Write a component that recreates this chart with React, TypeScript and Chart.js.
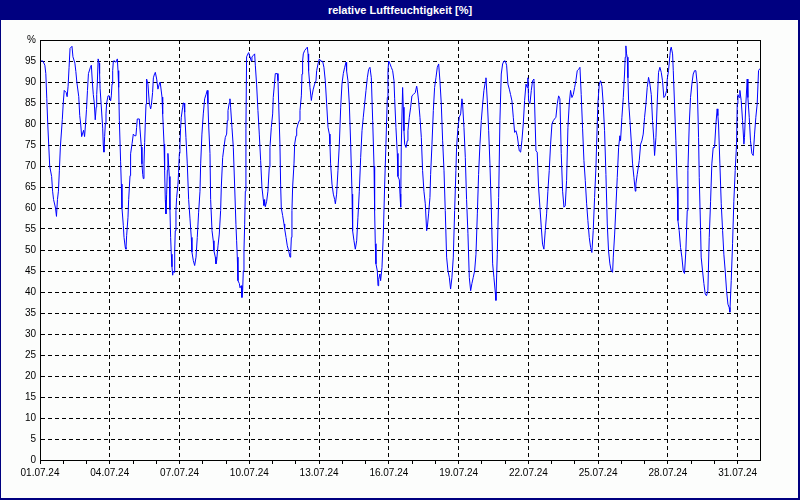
import React, { useEffect, useRef } from 'react';
import { Chart, registerables } from 'chart.js';

Chart.register(...registerables);

const TITLE = 'relative Luftfeuchtigkeit [%]';
const xTickLabels = ['01.07.24', '04.07.24', '07.07.24', '10.07.24', '13.07.24', '16.07.24', '19.07.24', '22.07.24', '25.07.24', '28.07.24', '31.07.24'];
const yUnitLabel = '%';
const HOURS_PER_DAY = 24;
const HOURS_PER_LABEL = 72;
const LAST_HOUR = 743;

// [hour since 01.07.24 00:00, relative humidity %]
const days01to06: [number, number][] = [
  [0, 95], [3, 95], [5, 94], [6, 92], [7, 86], [8, 80], [9, 75], [10, 70], [12, 67.5], [13, 64],
  [14, 62], [16, 60], [17, 58], [18, 62], [19, 64], [20, 69], [21, 74.5], [23, 81], [24, 85], [25, 88],
  [27, 87.5], [28, 86.5], [29, 89], [30, 93.5], [31, 98], [33, 98.5], [34, 96], [36, 94.5], [37, 92.5], [38, 90],
  [40, 86.5], [41, 82], [42, 80], [43, 77], [45, 78.5], [46, 77], [47, 80], [48, 83.5], [49, 88], [50, 92],
  [52, 93.5], [53, 94], [54, 90], [55, 87], [56, 85], [57, 81], [58, 84], [58.5, 87], [59.2, 90], [60, 95.5],
  [61, 94.5], [61.5, 92], [62, 88.5], [63, 85], [64.7, 79], [65.3, 75], [66, 73.3], [66.7, 77], [67.4, 80], [68.1, 82.4],
  [68.8, 85], [70.2, 86.7], [71.5, 86.7], [72.9, 85.5], [73.6, 86.7], [74.3, 89.5], [75, 92.7], [75.7, 95], [77, 95], [78.4, 94.7],
  [79.8, 95.5], [80.5, 92.7], [81.2, 88.7], [81.9, 80.8], [83.2, 71], [83.9, 65.7], [84.6, 60], [86, 55.8], [86.7, 53], [88, 50.6],
  [88.7, 50.2], [89.4, 53.4], [90.8, 57.8], [91.5, 62], [92.9, 67.7], [93.5, 72.9], [95, 75.3], [96.3, 77.6], [97.7, 77.2], [99, 77.2],
  [99.7, 79.2], [100.4, 81.2], [102.5, 81.2], [103.2, 78.8], [104.6, 74.5], [105.2, 70.5], [106, 68], [106.6, 67], [107.3, 70.5], [108, 75.6],
  [108.7, 80.4], [109.4, 84.8], [110, 90.7], [111.4, 89.5], [112.8, 85], [114.2, 83.6], [114.9, 84.4], [116.2, 87.5], [117, 91], [118.3, 92],
  [119, 92.3], [120.4, 90.7], [121.7, 88.3], [123.1, 89.5],
];

const days06to11: [number, number][] = [
  [124, 90], [125.9, 86.4], [126.6, 82.4], [128, 75.2], [128.6, 69], [129.3, 62], [130, 58.6], [130.7, 63.3], [131.4, 69], [132, 73],
  [132.8, 70], [133.4, 67.5], [134.1, 59.6], [134.8, 53], [135.5, 49], [136.2, 46], [136.9, 44], [137.6, 45], [138.3, 44.7], [139, 49.8],
  [139.6, 54.6], [140.3, 59.4], [141, 62.5], [142.4, 65.7], [143, 68.5], [143.8, 73], [144.4, 75], [145.1, 79], [145.8, 81.6], [147.2, 84],
  [147.9, 85], [148.6, 85], [149.3, 82.8], [150.6, 76.8], [152, 70.5], [153.4, 62], [154.8, 57.4], [156.1, 53], [156.8, 49.5], [158.2, 47.5],
  [159.6, 46.3], [161, 48.3], [162.3, 53], [163.7, 59], [165.1, 64], [165.8, 70.5], [167.1, 77.6], [168.5, 82.4], [169.9, 86], [171.3, 87],
  [172.6, 88], [173.3, 84.8], [174, 80], [175.4, 73], [176.1, 62], [177.5, 54.6], [178.8, 52.2], [179.5, 49.8], [180.9, 48.3], [181.6, 46.7],
  [182.3, 47.5], [183.7, 51], [185, 53.8], [186.4, 59.4], [187.1, 65], [188.5, 72], [189.8, 74.4], [191.2, 76.8], [192.6, 77.6], [193.3, 80.8],
  [194, 83.2], [195.3, 85], [196, 86], [196.7, 84], [198.1, 79.2], [199.5, 74.4], [200.9, 65], [202.2, 56], [202.9, 52.2], [203.6, 48.3],
  [204.3, 42.7], [205.7, 42], [206.4, 41], [207.7, 41.5], [208.4, 38.7], [209.1, 40.3], [209.8, 45], [210.5, 50], [211.2, 56], [211.9, 64],
  [212.5, 79], [213.2, 96], [214.6, 96.7], [215.3, 97], [216.7, 96], [218, 95], [218.7, 96], [220.1, 96.3], [221.5, 96.7], [222.2, 94],
  [223.5, 89.5], [224.9, 83.2], [226.3, 77.6], [227.7, 71.3], [229, 65], [230.4, 62], [231.1, 60.6], [231.8, 62], [232.5, 60.3], [233.9, 61.6],
  [235.2, 64], [236.6, 69.7], [237.3, 74.4], [238.7, 79.2], [240.1, 82.4], [240.7, 86.3], [242.1, 90], [242.8, 92], [244.9, 92], [245.6, 90.3],
  [246.3, 84.8], [247.6, 75.2], [248.3, 65.7], [249, 60],
];

const days11to16: [number, number][] = [
  [250.4, 58.2], [251.8, 56.2], [252.5, 55], [253.9, 53], [255.2, 51], [256.6, 49.8], [258, 48.3], [258.7, 49.4], [259.4, 53], [260, 59.4],
  [260.7, 65], [262.1, 70.5], [262.8, 75.2], [264.2, 77.2], [264.9, 78.8], [266.2, 80], [267.6, 80.8], [268.3, 83.2], [269.7, 86.7], [270.4, 91.9],
  [271, 95], [271.7, 96.7], [273.1, 97.5], [274.5, 97.9], [275.9, 98.3], [276.6, 96.7], [277.2, 92.7], [278.6, 88.7], [280, 85.6], [280.7, 86.7],
  [282, 88.3], [283.4, 89.5], [284.8, 90.3], [285.5, 92.7], [286.9, 94.3], [288.3, 95.5], [289.6, 95], [291.7, 94.9], [293, 93.5], [294.4, 90.3],
  [295.8, 84.8], [297.2, 79.2], [298.6, 77.6], [299.2, 75.2], [299.9, 70.5], [301.3, 65.7], [302.7, 63.3], [304.1, 62], [304.8, 61], [306.1, 63.3],
  [307.5, 69], [308.9, 75.2], [310.3, 84], [311.6, 89.5], [313, 92], [314.4, 93.5], [315.8, 94.7], [316.4, 92.7], [317.8, 90.3], [319.2, 84.8],
  [320.6, 75.2], [322, 63.3], [322.6, 54.6], [324, 52.2], [325.4, 50.2], [326.8, 52.2], [328.1, 57.8], [329.5, 64], [330.9, 72], [332.3, 78.4],
  [333.6, 81.6], [335, 84.8], [336.4, 88], [337.8, 91], [339.1, 93], [340.5, 93.5], [341.9, 91], [343.3, 80.8], [344.7, 70], [345.3, 59.4],
  [346, 51.5], [346.7, 46.7], [348.1, 45], [348.8, 41.5], [349.5, 43], [350.8, 44.3], [351.5, 42.7], [352.9, 45.8], [354.3, 53.8], [355.7, 65.7],
  [357, 75.2], [358.4, 86.3], [359.1, 92.7], [359.8, 95], [361.2, 94.3], [362.5, 93.5], [363.9, 92.7], [365.3, 90.3], [366, 86], [367.3, 79.2],
  [368.7, 73], [369.4, 67.5], [370.8, 66.7], [371.5, 63.3], [372.2, 60.2],
];

const days16to21: [number, number][] = [
  [372.8, 74.5], [374.2, 88.7], [374.9, 84], [375.6, 78.4], [376.3, 75.2], [377.7, 74.4], [379, 76], [379.7, 78.4], [381.1, 81.6], [382.5, 84],
  [383.8, 86.7], [385.2, 87], [387.3, 87.5], [388.7, 89], [389.3, 88.3], [390.7, 85.5], [392.1, 81.6], [393.5, 76.8], [394.8, 68.9], [396.2, 64],
  [397.6, 61], [399, 54.6], [399.7, 55.4], [401, 58.6], [402.4, 62.5], [403.1, 68], [404.5, 75.2], [405.9, 83.2], [407.2, 88.7], [408.6, 91],
  [410, 93.5], [411.4, 94.3], [412.7, 90.3], [414.1, 84.8], [415.5, 76], [416.9, 69], [418.2, 59.4], [419.6, 48.3], [421, 45], [422.4, 43.5],
  [423.7, 40.7], [425.1, 43.5], [426.5, 48.3], [427.9, 59.4], [429.2, 69], [429.9, 74.4], [431.3, 79.2], [432.7, 81.6], [434.1, 82.4], [435.4, 86],
  [436.1, 84.8], [437.5, 79.2], [438.9, 72], [440.2, 62], [441.6, 54], [443, 43.5], [444.4, 40.3], [445.7, 42], [447.1, 43.5], [448.5, 45],
  [449.9, 49], [451.3, 58.6], [452.6, 68], [454, 75.2], [455.4, 80.8], [456.8, 84.8], [458.1, 88], [459.5, 90], [460.2, 91], [461.6, 85.5],
  [463, 78.4], [464.3, 70.5], [465.7, 60.2], [467.1, 46.7], [468.4, 43.5], [469.8, 40], [470.5, 38], [471.9, 49], [473.3, 62.5], [474.6, 80.8],
  [476, 91.9], [477.4, 94.3], [478.8, 95], [480.1, 95], [481.5, 94], [482.9, 89.5], [484.3, 88.3], [485.6, 87], [487, 85.5], [488.4, 81.6],
  [489.8, 78], [491.1, 78.4], [492.5, 77.2],
];

const days21to26: [number, number][] = [
  [494.6, 73.6], [496, 73.3], [497.3, 76], [498.7, 80], [500.1, 85.6], [501.5, 89.5], [502.8, 88.7], [503.5, 91], [504.2, 85.5], [505.6, 84.8],
  [507, 88], [508.3, 90.3], [509.7, 90.7], [510.4, 84.8], [511.8, 73.6], [513.1, 73.3], [514.5, 65], [515.9, 60.2], [517.3, 55.4], [518.6, 51.4],
  [520, 50.2], [521.4, 54.6], [522.8, 58.6], [524.1, 64], [525.5, 68.9], [526.9, 75.2], [528.3, 80], [529.7, 80.8], [531, 81.2], [532.4, 81.6],
  [533.8, 84.8], [535.2, 86.7], [536.5, 86], [537.9, 73], [539.3, 64], [540.7, 60.2], [542, 60.5], [543.4, 66.5], [544.8, 79.2], [546.2, 85],
  [547.5, 88], [548.9, 86.3], [550.3, 87], [551.7, 88.7], [553, 90.3], [554.4, 92.7], [555.8, 93], [557.2, 93.5], [558.5, 87], [559.9, 79],
  [561.3, 71.3], [562.7, 66.5], [564.1, 61], [565.4, 57], [566.8, 53], [568.2, 50.6], [569.5, 49.4], [570.9, 54.6], [572.3, 62.5], [573.7, 69.7],
  [574.4, 75.2], [575.7, 84.8], [577.1, 89.5], [578.5, 90.3], [579.9, 89], [581.2, 84.8], [582.6, 78.4], [584, 68], [585.4, 56.2], [586.7, 49.8],
  [588.1, 46.7], [589.5, 45], [590.9, 44.7], [591.6, 48.3], [593, 53.8], [594.3, 60.2], [595.7, 67.3], [597.1, 74.4], [598.4, 77.2], [599.1, 76],
  [600.5, 81.6], [601.9, 86.3], [603.2, 91.9], [603.9, 95.9], [604.6, 98.6], [605.3, 96.7], [606, 95.9], [606.7, 91], [607.4, 85.5], [608.8, 80.8],
  [610.1, 76], [611.5, 70.5], [612.9, 67.3], [614.3, 64], [614.9, 65.7], [616.3, 68],
];

const days26to31: [number, number][] = [
  [617, 68], [618.4, 71.3], [619.8, 75.2], [621.1, 76], [622.5, 77.6], [623.9, 81.6], [625.3, 84.8], [626.6, 88.7], [628, 91.1], [629.4, 89.5],
  [630.8, 87], [632.1, 80.8], [633.5, 76], [634.2, 72.5], [635.6, 76.8], [636.9, 84.8], [638.3, 92.3], [639.7, 93.5], [641.1, 92.3], [642.4, 90.3],
  [643.8, 86.3], [645.2, 86.7], [646.6, 88], [647.3, 90.7], [648.6, 92.7], [650, 96.3], [650.7, 97.9], [651.4, 98.3], [652.8, 96.7], [653.5, 92.7],
  [654.8, 84.8], [656.2, 76], [657.6, 65], [658.3, 57], [659.6, 54.6], [661, 50.6], [662.4, 48.3], [663.8, 45], [665.1, 44.4], [666.5, 49.8],
  [667.9, 59.4], [668.6, 69], [670, 80], [671.3, 86.3], [672.7, 89.5], [674.1, 91.9], [675.5, 92.7], [676.8, 92.7], [678.2, 89.5], [679.6, 76.8],
  [680.3, 67.3], [681.7, 54.6], [682.3, 48.3], [683.7, 45], [685.1, 42], [686.5, 39.5], [687.8, 39.1], [689.2, 40.3], [690.6, 53], [692, 61.6],
  [693.3, 70.5], [694.7, 74.4], [696.1, 74.4], [697.5, 80], [698.8, 83.6], [699.5, 82], [700.2, 80], [701.6, 70.5], [703, 61], [704.4, 54.6],
  [705.7, 49], [707.1, 45], [708.5, 40.3], [709.9, 37.1], [711.2, 36.3], [711.9, 35.2], [713.3, 42.7], [714.7, 51.5], [716, 61.6], [717.4, 68.9],
  [718.8, 75.2], [719.5, 84.8], [720.2, 87], [721.5, 86.3], [722.2, 88], [723.6, 85.6], [725, 80.8], [726.4, 75.2], [727, 76.8], [728.4, 84.8],
  [729.8, 90.7], [730.5, 86.3], [731.9, 81.6], [733.2, 76], [734.6, 73], [736, 72.5], [737.4, 77.6], [738.7, 81.6], [740.1, 84.8], [741.5, 92.7],
  [742.9, 93.2],
];

const FONT = '"Liberation Sans", Arial, sans-serif';

export default function App() {
  const canvasRef = useRef<HTMLCanvasElement | null>(null);

  useEffect(() => {
    const canvas = canvasRef.current;
    if (!canvas) return;
    const series = [...days01to06, ...days06to11, ...days11to16, ...days16to21, ...days21to26, ...days26to31];

    const frame = {
      id: 'plotFrame',
      afterDraw(chart: any) {
        const { ctx, chartArea: a } = chart;
        ctx.save();
        ctx.strokeStyle = '#000';
        ctx.lineWidth = 1;
        ctx.setLineDash([]);
        ctx.strokeRect(Math.round(a.left) + 0.5, Math.round(a.top) + 0.5, Math.round(a.right - a.left), Math.round(a.bottom - a.top));
        ctx.restore();
      },
    };

    const chart = new Chart(canvas, {
      type: 'line',
      data: {
        datasets: [
          {
            data: series.map(([h, v]) => ({ x: h, y: v })),
            borderColor: '#0000ff',
            borderWidth: 1,
            pointRadius: 0,
            tension: 0,
            fill: false,
          },
        ],
      },
      options: {
        animation: false,
        responsive: false,
        devicePixelRatio: 1,
        layout: { padding: { top: 40, right: 40, left: 0, bottom: 0 } },
        plugins: { legend: { display: false }, tooltip: { enabled: false }, title: { display: false } },
        scales: {
          x: {
            type: 'linear',
            min: 0,
            max: LAST_HOUR,
            afterFit: (s: any) => { s.height = 40; },
            border: { display: true, color: '#000', width: 1, dash: [4, 3] },
            grid: {
              color: (c: any) => (c.tick && c.tick.value > 0 && c.tick.value % HOURS_PER_LABEL === 0 ? '#000' : 'rgba(0,0,0,0)'),
              tickColor: '#000',
              tickBorderDash: [],
              tickLength: 4,
              lineWidth: 1,
            },
            ticks: {
              stepSize: HOURS_PER_DAY,
              includeBounds: false,
              autoSkip: false,
              maxRotation: 0,
              minRotation: 0,
              padding: 3,
              color: '#000',
              font: { family: FONT, size: 10 },
              callback: (v: any) => (Number(v) % HOURS_PER_LABEL === 0 ? xTickLabels[Number(v) / HOURS_PER_LABEL] ?? '' : ''),
            },
          },
          y: {
            min: 0,
            max: 100,
            afterFit: (s: any) => { s.width = 40; },
            border: { display: true, color: '#000', width: 1, dash: [4, 3] },
            grid: {
              color: (c: any) => (c.tick && c.tick.value > 0 && c.tick.value < 100 ? '#000' : 'rgba(0,0,0,0)'),
              drawTicks: false,
              lineWidth: 1,
            },
            ticks: {
              stepSize: 5,
              padding: 4,
              color: '#000',
              font: { family: FONT, size: 10 },
              callback: (v: any) => (Number(v) === 100 ? yUnitLabel : String(v)),
            },
          },
        },
      },
      plugins: [frame],
    } as any);

    return () => chart.destroy();
  }, []);

  return (
    <div style={{ position: 'absolute', left: 0, top: 0, width: 800, height: 500, background: '#000080', overflow: 'hidden' }}>
      <div style={{ position: 'absolute', left: 1, top: 20, width: 797, height: 478, background: '#fcfdfc' }} />
      <div
        style={{
          position: 'absolute', left: 0, top: 0, width: 800, height: 20, lineHeight: '20px', textAlign: 'center',
          color: '#ffffff', fontFamily: FONT, fontWeight: 'bold', fontSize: 11,
        }}
      >
        {TITLE}
      </div>
      <canvas ref={canvasRef} width={800} height={500} style={{ position: 'absolute', left: 0, top: 0, width: 800, height: 500 }} />
    </div>
  );
}
